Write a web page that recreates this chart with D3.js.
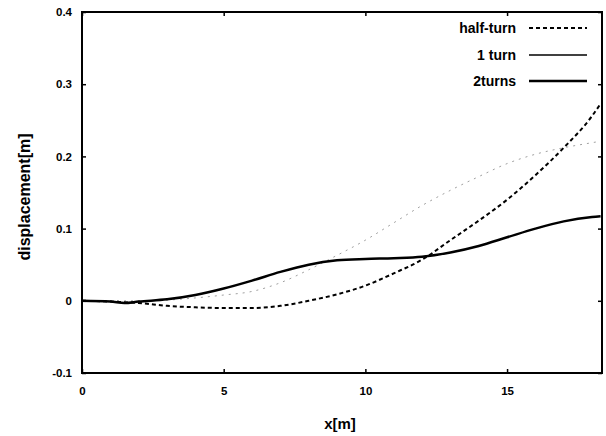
<!DOCTYPE html>
<html><head><meta charset="utf-8">
<script src="https://cdn.jsdelivr.net/npm/d3@7"></script>
<style>body{margin:0;background:#fff}svg{display:block}</style>
</head><body>
<script>
const xs = [0,1,1.5,2,3,4,5,6,7,8,9,10,11,12,13,14,15,16,17,18,18.3];
const halfTurn = [0,-0.001,-0.002,-0.003,-0.007,-0.009,-0.010,-0.010,-0.007,0.000,0.009,0.021,0.038,0.057,0.084,0.111,0.140,0.174,0.212,0.256,0.273];
const oneTurn  = [0,0,0,0,0.001,0.004,0.008,0.013,0.025,0.043,0.063,0.084,0.108,0.132,0.153,0.172,0.190,0.203,0.212,0.219,0.221];
const twoTurns = [0,-0.001,-0.003,-0.001,0.002,0.008,0.017,0.028,0.040,0.050,0.056,0.058,0.059,0.061,0.067,0.076,0.088,0.100,0.110,0.116,0.117];
const xTicks = [0,5,10,15];
const yTicks = [-0.1,0,0.1,0.2,0.3,0.4];
const yTickLabels = ["-0.1","0","0.1","0.2","0.3","0.4"];
const seriesNames = ["half-turn","1 turn","2turns"];

const W=606,H=436;
const svg=d3.select("body").append("svg").attr("width",W).attr("height",H);
const L=82,R=602,T=12,B=373;
const x=d3.scaleLinear().domain([0,18.35]).range([L,R]);
const y=d3.scaleLinear().domain([-0.1,0.4]).range([B,T]);
const tickFont='"Liberation Sans Narrow","Arial Narrow","Liberation Sans",sans-serif';

const gx=svg.append("g").attr("transform",`translate(0,${B})`)
  .call(d3.axisBottom(x).tickValues(xTicks).tickSizeInner(-4).tickSizeOuter(0).tickPadding(14).tickFormat(d3.format("d")));
const gxt=svg.append("g").attr("transform",`translate(0,${T})`)
  .call(d3.axisTop(x).tickValues(xTicks).tickSizeInner(-4).tickSizeOuter(0).tickFormat(""));
const gy=svg.append("g").attr("transform",`translate(${L},0)`)
  .call(d3.axisLeft(y).tickValues(yTicks).tickSizeInner(-4).tickSizeOuter(0).tickPadding(10).tickFormat((d,i)=>yTickLabels[i]));
const gyr=svg.append("g").attr("transform",`translate(${R},0)`)
  .call(d3.axisRight(y).tickValues(yTicks).tickSizeInner(-4).tickSizeOuter(0).tickFormat(""));
[gx,gxt,gy,gyr].forEach(g=>{
  g.select(".domain").remove();
  g.selectAll(".tick line").attr("stroke","#000").attr("stroke-width",1.5);
  g.selectAll("text").attr("font-family",tickFont).attr("font-weight","bold").attr("font-size",11.5).attr("fill","#000");
});

svg.append("rect").attr("x",L).attr("y",T).attr("width",R-L).attr("height",B-T)
  .attr("fill","none").attr("stroke","#000").attr("stroke-width",2);

const line=vals=>d3.line().x((d,i)=>x(xs[i])).y(d=>y(d)).curve(d3.curveMonotoneX)(vals);
const plot=svg.append("g");
plot.append("path").attr("d",line(oneTurn)).attr("fill","none").attr("stroke","#a0a0a0").attr("stroke-width",1).attr("stroke-dasharray","2,5");
plot.append("path").attr("d",line(halfTurn)).attr("fill","none").attr("stroke","#000").attr("stroke-width",2).attr("stroke-dasharray","4,3");
plot.append("path").attr("d",line(twoTurns)).attr("fill","none").attr("stroke","#000").attr("stroke-width",2.5);

const lg=svg.append("g");
const ly=[28,55,81];
const styles=[{w:2,da:"4,3"},{w:1.5,da:null},{w:2.5,da:null}];
seriesNames.forEach((n,i)=>{
  lg.append("text").attr("x",516).attr("y",ly[i]).attr("dy","0.35em").attr("text-anchor","end")
    .attr("font-family","'Liberation Sans',Arial,sans-serif").attr("font-weight","bold").attr("font-size",14).text(n);
  const l=lg.append("line").attr("x1",529).attr("x2",587).attr("y1",ly[i]).attr("y2",ly[i])
    .attr("stroke","#000").attr("stroke-width",styles[i].w);
  if(styles[i].da) l.attr("stroke-dasharray",styles[i].da);
});

svg.append("text").attr("x",340).attr("y",429).attr("text-anchor","middle")
  .attr("font-family","'Liberation Sans',Arial,sans-serif").attr("font-weight","bold").attr("font-size",15).text("x[m]");
svg.append("text").attr("transform","translate(30,197) rotate(-90)").attr("text-anchor","middle")
  .attr("font-family","'Liberation Sans',Arial,sans-serif").attr("font-weight","bold").attr("font-size",16).text("displacement[m]");
</script>
</body></html>
